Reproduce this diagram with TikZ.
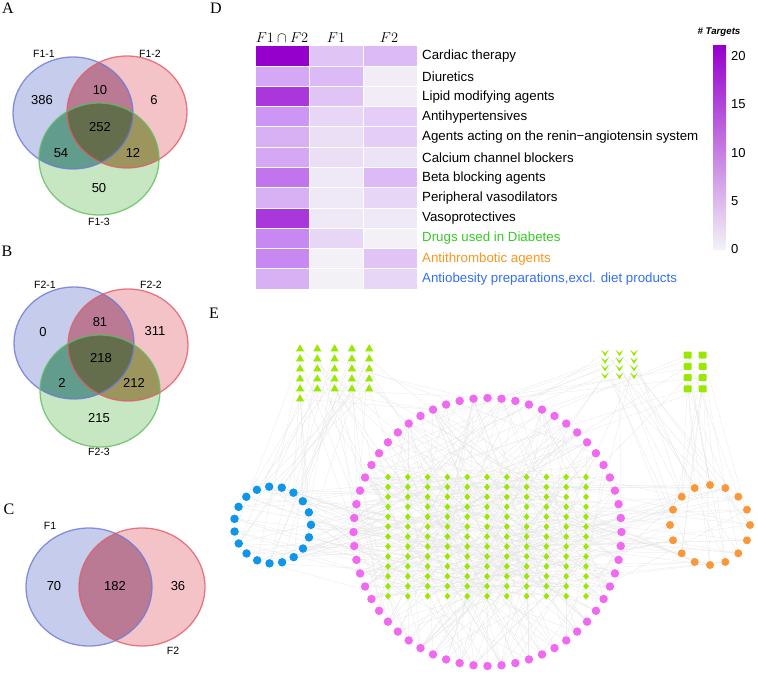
\documentclass[tikz,border=0pt]{standalone}
\usepackage{fontspec}
\setmainfont{Liberation Sans}
\newfontfamily\panelfont{Liberation Serif}
\usetikzlibrary{shapes.geometric,backgrounds}

% venn colours
\definecolor{vbfill}{RGB}{198,204,236}
\definecolor{vrfill}{RGB}{243,195,200}
\definecolor{vgfill}{RGB}{199,231,194}
\definecolor{vbr}{RGB}{186,122,148}
\definecolor{vbg}{RGB}{98,156,140}
\definecolor{vrg}{RGB}{156,150,94}
\definecolor{vbrg}{RGB}{100,110,76}
\definecolor{vbline}{RGB}{105,122,215}
\definecolor{vrline}{RGB}{226,92,102}
\definecolor{vgline}{RGB}{96,190,96}
% heat map colours
\definecolor{heatlow}{RGB}{243,241,246}
\definecolor{heatmid}{RGB}{205,150,245}
\definecolor{heathigh}{RGB}{150,0,205}
\definecolor{atcdiab}{RGB}{55,200,35}
\definecolor{atcthromb}{RGB}{250,150,30}
\definecolor{atcobes}{RGB}{50,110,250}
% network colours
\definecolor{hubgreen}{RGB}{153,232,0}
\definecolor{tgtpink}{RGB}{240,105,240}
\definecolor{tgtblue}{RGB}{15,150,235}
\definecolor{tgtorange}{RGB}{248,152,56}

\newcommand{\heatcell}[3]{%
  \pgfmathtruncatemacro{\hclow}{(#3)<10}%
  \ifnum\hclow=1
    \pgfmathsetmacro{\hcpct}{(#3)*10}%
    \colorlet{hcfill}{heatmid!\hcpct!heatlow}%
  \else
    \pgfmathsetmacro{\hcpct}{((#3)-10)*100/11}%
    \colorlet{hcfill}{heathigh!\hcpct!heatmid}%
  \fi
  \fill[hcfill, draw=white, line width=1pt] (#1,#2) rectangle ++(54,20.25);
}

\newcommand{\vennthree}[3]{%
  \fill[vbfill] #1 ellipse [x radius=60pt, y radius=56pt];
  \fill[vrfill] #2 ellipse [x radius=60pt, y radius=56pt];
  \fill[vgfill] #3 ellipse [x radius=60pt, y radius=56pt];
  \begin{scope}
    \clip #2 ellipse [x radius=60pt, y radius=56pt];
    \fill[vrg] #3 ellipse [x radius=60pt, y radius=56pt];
  \end{scope}
  \begin{scope}
    \clip #1 ellipse [x radius=60pt, y radius=56pt];
    \fill[vbr] #2 ellipse [x radius=60pt, y radius=56pt];
    \fill[vbg] #3 ellipse [x radius=60pt, y radius=56pt];
    \clip #2 ellipse [x radius=60pt, y radius=56pt];
    \fill[vbrg] #3 ellipse [x radius=60pt, y radius=56pt];
  \end{scope}
  \draw[vennline, vbline] #1 ellipse [x radius=60pt, y radius=56pt];
  \draw[vennline, vrline] #2 ellipse [x radius=60pt, y radius=56pt];
  \draw[vennline, vgline] #3 ellipse [x radius=60pt, y radius=56pt];
}

\begin{document}
\begin{tikzpicture}[x=1pt, y=-1pt,
    panellabel/.style={font=\panelfont\fontsize{16}{16}\selectfont, inner sep=0},
    vennline/.style={line width=1.3pt, draw opacity=0.8},
    vennnum/.style={font=\fontsize{13}{13}\selectfont, inner sep=0},
    vennname/.style={font=\fontsize{10.5}{10.5}\selectfont, inner sep=0},
    heatlabel/.style={anchor=west, font=\fontsize{13.3}{14}\selectfont, inner sep=0},
    heathead/.style={font=\fontsize{15}{15}\selectfont, inner sep=0},
    ticklabel/.style={anchor=west, font=\fontsize{13}{13}\selectfont, inner sep=0},
    pinknode/.style={circle, fill=tgtpink, minimum size=8.5pt, inner sep=0},
    bluenode/.style={circle, fill=tgtblue, minimum size=8.5pt, inner sep=0},
    orangenode/.style={circle, fill=tgtorange, minimum size=8pt, inner sep=0},
    diamnode/.style={diamond, fill=hubgreen, minimum width=6pt, minimum height=7pt, inner sep=0},
    trinode/.style={regular polygon, regular polygon sides=3, fill=hubgreen, minimum size=9.5pt, inner sep=0},
    chevnode/.style={rectangle, minimum width=8pt, minimum height=6.5pt, inner sep=0,
        path picture={\fill[hubgreen] (path picture bounding box.north west)
            -- (path picture bounding box.center) -- (path picture bounding box.north east)
            -- (path picture bounding box.south) -- cycle;}},
    sqnode/.style={rectangle, rounded corners=1pt, fill=hubgreen, minimum width=8pt, minimum height=7pt, inner sep=0},
    netlink/.style={gray!20, line width=0.25pt}
]
    \useasboundingbox (0,0) rectangle (758,674);

    % panel letters
    \node[panellabel] (pa) at (8,8) {A};
    \node[panellabel] (pb) at (7,251) {B};
    \node[panellabel] (pc) at (9,509) {C};
    \node[panellabel] (pd) at (216,8) {D};
    \node[panellabel] (pe) at (214,313) {E};

    % Venn A
    \vennthree{(73,113)}{(127,112)}{(99,159)}
    \node[vennname] (la1) at (44,54) {F1-1};
    \node[vennname] (la2) at (150,54) {F1-2};
    \node[vennname] (la3) at (99,222) {F1-3};
    \node[vennnum] (na1) at (42,100) {386};
    \node[vennnum] (na2) at (100,90) {10};
    \node[vennnum] (na3) at (154,100) {6};
    \node[vennnum] (na4) at (100,127) {252};
    \node[vennnum] (na5) at (61,153) {54};
    \node[vennnum] (na6) at (133,153) {12};
    \node[vennnum] (na7) at (99,188) {50};

    % Venn B
    \vennthree{(74,343)}{(128,345)}{(100,391)}
    \node[vennname] (lb1) at (45,285) {F2-1};
    \node[vennname] (lb2) at (151,285) {F2-2};
    \node[vennname] (lb3) at (99,452) {F2-3};
    \node[vennnum] (nb1) at (43,332) {0};
    \node[vennnum] (nb2) at (100,322) {81};
    \node[vennnum] (nb3) at (155,331) {311};
    \node[vennnum] (nb4) at (101,358) {218};
    \node[vennnum] (nb5) at (62,383) {2};
    \node[vennnum] (nb6) at (134,383) {212};
    \node[vennnum] (nb7) at (99,418) {215};

    % Venn C
    \fill[vbfill] (89,587) ellipse [x radius=63pt, y radius=59pt];
    \fill[vrfill] (142,587) ellipse [x radius=63pt, y radius=59pt];
    \begin{scope}
        \clip (89,587) ellipse [x radius=63pt, y radius=59pt];
        \fill[vbr] (142,587) ellipse [x radius=63pt, y radius=59pt];
    \end{scope}
    \draw[vennline, vbline] (89,587) ellipse [x radius=63pt, y radius=59pt];
    \draw[vennline, vrline] (142,587) ellipse [x radius=63pt, y radius=59pt];
    \node[vennname] (lc1) at (50,526) {F1};
    \node[vennname] (lc2) at (173,651) {F2};
    \node[vennnum] (nc1) at (54,586) {70};
    \node[vennnum] (nc2) at (115,586) {182};
    \node[vennnum] (nc3) at (178,586) {36};

    % heat map D
    \node[heathead] (hboth) at (282,38) {$F1\cap F2$};
    \node[heathead] (hone) at (336,38) {$F1$};
    \node[heathead] (htwo) at (389,38) {$F2$};
    \foreach \r/\va/\vb/\vc/\cname/\ccol in {
        1/21/5/6/{Cardiac therapy}/black,
        2/8/6/0.5/{Diuretics}/black,
        3/17/5/0.5/{Lipid modifying agents}/black,
        4/10/3/4/{Antihypertensives}/black,
        5/7/2/4/{Agents acting on the renin−angiotensin system}/black,
        6/8/2/1.5/{Calcium channel blockers}/black,
        7/12.5/1/6/{Beta blocking agents}/black,
        8/7/1/3/{Peripheral vasodilators}/black,
        9/17/1/1/{Vasoprotectives}/black,
        10/11/3/0/{Drugs used in Diabetes}/atcdiab,
        11/11/0/5/{Antithrombotic agents}/atcthromb,
        12/7/0/3/{Antiobesity preparations,excl. diet products}/atcobes}{
        \pgfmathsetmacro{\ry}{46+20.25*(\r-1)}
        \heatcell{255}{\ry}{\va}
        \heatcell{309}{\ry}{\vb}
        \heatcell{363}{\ry}{\vc}
        \node[heatlabel, text=\ccol] (atc\r) at (422,{\ry+10.1}) {\cname};
    }
    % colour bar
    \node[font=\bfseries\itshape\fontsize{9.7}{10}\selectfont, inner sep=0] (bartitle) at (719,32) {\# Targets};
    \shade[bottom color=heatlow, middle color=heatmid, top color=heathigh] (713,46) rectangle (726,249);
    \foreach \tv/\ty in {20/56,15/104,10/153,5/201,0/249}
        \node[ticklabel] (tick\tv) at (731,\ty) {\tv};

    % network E: target rings
    \foreach \k in {1,...,60}{
        \pgfmathsetmacro{\ang}{90-6*(\k-1)}
        \node[pinknode] (m\k) at ({487.5+134*cos(\ang)},{532-134*sin(\ang)}) {};
    }
    \foreach \k in {1,...,19}{
        \pgfmathsetmacro{\ang}{95-360/19*(\k-1)}
        \node[bluenode] (b\k) at ({272.5+38.5*cos(\ang)},{525-38.5*sin(\ang)}) {};
    }
    \foreach \k in {1,...,16}{
        \pgfmathsetmacro{\ang}{90-22.5*(\k-1)}
        \node[orangenode] (o\k) at ({710+40*cos(\ang)},{525-40*sin(\ang)}) {};
    }
    % compounds
    \foreach \i in {1,...,11}
        \foreach \j in {1,...,13}
            \node[diamnode] (d\i-\j) at ({388+19.8*(\i-1)},{477+9.93*(\j-1)}) {};
    \foreach \i in {1,...,5}
        \foreach \j in {1,...,5}
            \node[trinode] (t\i-\j) at ({300+17.3*(\i-1)},{349+10*(\j-1)}) {};
    \node[trinode] (t1-6) at (300,399) {};
    \foreach \i in {1,2,3}
        \foreach \j in {1,...,4}
            \node[chevnode] (v\i-\j) at ({605+14.5*(\i-1)},{353+7.6*(\j-1)}) {};
    \foreach \i in {1,2}
        \foreach \j in {1,...,4}
            \node[sqnode] (s\i-\j) at ({687.7+15*(\i-1)},{355+11.3*(\j-1)}) {};

    % links
    \begin{pgfonlayer}{background}
        \pgfmathsetseed{12}
        \foreach \i in {1,...,11}
            \foreach \j in {1,...,13}{
                \pgfmathrandominteger{\ma}{1}{60}
                \pgfmathrandominteger{\mb}{1}{60}
                \draw[netlink] (d\i-\j) -- (m\ma) (d\i-\j) -- (m\mb);
            }
        \foreach \k in {1,...,19}
            \foreach \n in {1,2,3}{
                \pgfmathrandominteger{\di}{1}{11}
                \pgfmathrandominteger{\dj}{1}{13}
                \draw[netlink] (b\k) -- (d\di-\dj);
            }
        \foreach \k in {1,...,16}
            \foreach \n in {1,2,3}{
                \pgfmathrandominteger{\di}{1}{11}
                \pgfmathrandominteger{\dj}{1}{13}
                \draw[netlink] (o\k) -- (d\di-\dj);
            }
        \foreach \i/\j in {1/1,1/2,1/3,1/4,1/5,1/6,2/1,2/2,2/3,2/4,2/5,3/1,3/2,3/3,3/4,3/5,
                4/1,4/2,4/3,4/4,4/5,5/1,5/2,5/3,5/4,5/5}{
            \pgfmathrandominteger{\bb}{1}{19}
            \pgfmathrandominteger{\ma}{1}{60}
            \draw[netlink] (t\i-\j) -- (b\bb) (t\i-\j) -- (m\ma);
        }
        \foreach \i in {1,2,3}
            \foreach \j in {1,...,4}{
                \pgfmathrandominteger{\ma}{1}{60}
                \pgfmathrandominteger{\oo}{1}{16}
                \draw[netlink] (v\i-\j) -- (m\ma) (v\i-\j) -- (o\oo);
            }
        \foreach \i in {1,2}
            \foreach \j in {1,...,4}{
                \pgfmathrandominteger{\ma}{1}{60}
                \pgfmathrandominteger{\oo}{1}{16}
                \pgfmathrandominteger{\op}{1}{16}
                \draw[netlink] (s\i-\j) -- (m\ma) (s\i-\j) -- (o\oo) (s\i-\j) -- (o\op);
            }
    \end{pgfonlayer}
\end{tikzpicture}
\end{document}
